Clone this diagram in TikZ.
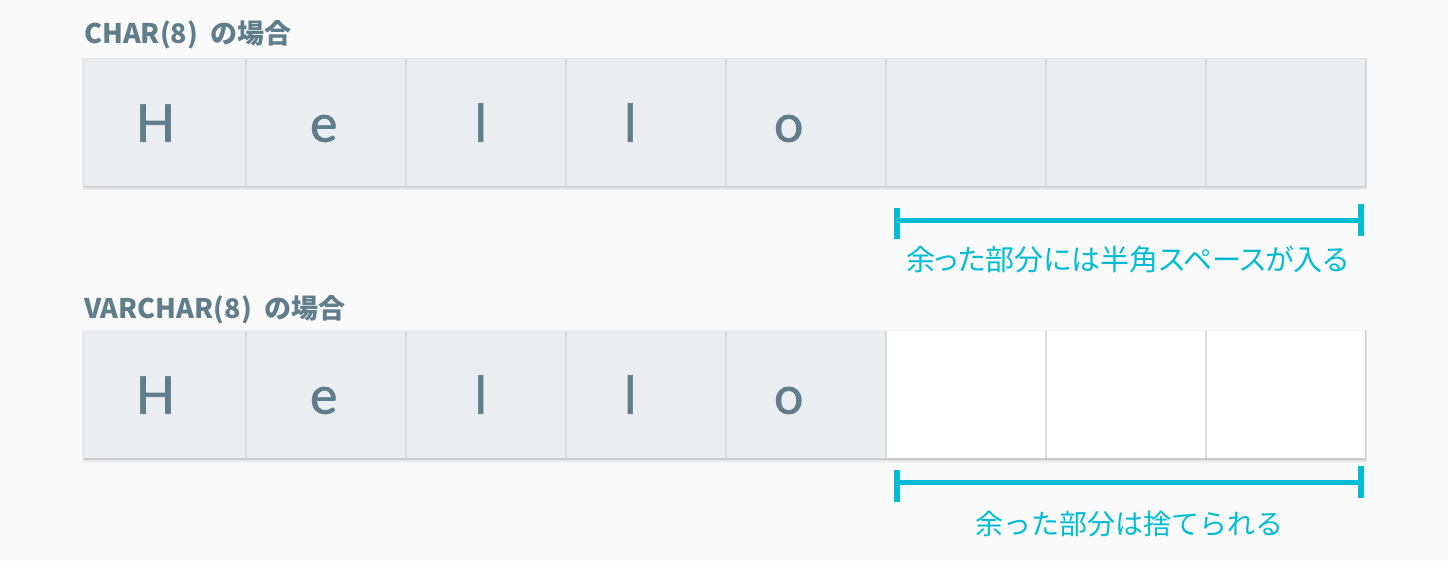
\documentclass[tikz,border=0pt]{standalone}
\usepackage{fontspec}
\setmainfont{Lato}
\newfontfamily\letterfont[FakeBold=1.2]{Lato}
\newfontfamily\cjk{Noto Sans CJK JP}
\newfontfamily\cjkp[RawFeature=+palt]{Noto Sans CJK JP}
\definecolor{bg}{HTML}{FAFAFA}
\definecolor{txt}{HTML}{607D8B}
\definecolor{cellg}{HTML}{EBEEF1}
\definecolor{sepc}{HTML}{D5DBDF}
\definecolor{cyanb}{HTML}{00BCD4}
\tikzset{
  cellbox/.style={inner sep=0pt, outer sep=0pt, minimum height=127pt},
  letter/.style={text=txt, font=\letterfont\fontsize{52}{60}\selectfont, anchor=base, inner sep=0pt},
  titletext/.style={text=txt, font=\cjk\bfseries\fontsize{27}{32}\selectfont, anchor=base west, inner sep=0pt},
  labeltext/.style={text=cyanb, font=\fontsize{29}{34}\selectfont, anchor=base, inner sep=0pt},
  sepline/.style={draw=sepc, line width=2pt},
  bracket/.style={draw=cyanb, line width=5pt},
  tick/.style={draw=cyanb, line width=6pt},
}
\begin{document}
\begin{tikzpicture}[x=1pt,y=-1pt]
\fill[bg] (0,0) rectangle (1448,561);
\useasboundingbox (0,0) rectangle (1448,561);
% shadows
\foreach \yt/\yb in {59/186, 331/458}{
  \fill[black, opacity=0.04] (82,\yt-1) rectangle (1367,\yb+4.5);
  \fill[black, opacity=0.06] (82.5,\yt-0.5) rectangle (1366.5,\yb+3);
  \fill[black, opacity=0.09] (83.5,\yt) rectangle (1365.5,\yb+1.5);
}
% row 1 cells
\foreach \i/\l/\r in {1/84/246,2/246/406,3/406/566,4/566/726,5/726/886,6/886/1046,7/1046/1206,8/1206/1365}{
  \pgfmathsetmacro\w{\r-\l}
  \pgfmathsetmacro\c{(\r+\l)/2}
  \node[cellbox, fill=cellg, minimum width=\w pt] (a\i) at (\c,122.5) {};
}
% row 2 cells
\foreach \i/\l/\r/\f in {1/84/246/cellg,2/246/406/cellg,3/406/566/cellg,4/566/726/cellg,5/726/886/cellg,6/886/1046/white,7/1046/1206/white,8/1206/1365/white}{
  \pgfmathsetmacro\w{\r-\l}
  \pgfmathsetmacro\c{(\r+\l)/2}
  \node[cellbox, fill=\f, minimum width=\w pt] (b\i) at (\c,394.5) {};
}
\foreach \i in {1,...,7}{
  \draw[sepline] (a\i.north east) -- (a\i.south east);
  \draw[sepline] (b\i.north east) -- (b\i.south east);
}
% letters
\foreach \r/\yb in {a/141.7, b/413.7}{
  \node[letter] (\r H) at (155.5,\yb) {H};
  \node[letter] (\r e) at (323.7,\yb) {e};
  \node[letter] (\r l) at (480.7,\yb) {l};
  \node[letter] (\r ll) at (630.3,\yb) {l};
  \node[letter] (\r o) at (788.7,\yb) {o};
}
% titles
\node[titletext] (t1) at (84,43.3) {CHAR(8)\ \ の場合};
\node[titletext] (t2) at (84,318.3) {VARCHAR(8)\ \ の場合};
% brackets
\coordinate (l1) at (897,220.7);
\coordinate (r1) at (1360.5,220.7);
\coordinate (l1t) at (897,208);
\coordinate (l1b) at (897,239.5);
\coordinate (r1t) at (1360.5,204);
\coordinate (r1b) at (1360.5,235.7);
\draw[bracket] (l1) -- (r1);
\draw[tick] (l1t) -- (l1b);
\draw[tick] (r1t) -- (r1b);
\coordinate (l2) at (897,482.5);
\coordinate (r2) at (1360.5,482.5);
\coordinate (l2t) at (897,470);
\coordinate (l2b) at (897,501.7);
\coordinate (r2t) at (1360.5,466);
\coordinate (r2b) at (1360.5,497.7);
\draw[bracket] (l2) -- (r2);
\draw[tick] (l2t) -- (l2b);
\draw[tick] (r2t) -- (r2b);
% labels
\node[labeltext, font=\cjkp\fontsize{29}{34}\selectfont] (lab1) at (1127.5,271) {余った部分には半角スペースが入る};
\node[labeltext, font=\cjk\fontsize{28}{33}\selectfont] (lab2) at (1129,534) {余った部分は捨てられる};
\end{tikzpicture}
\end{document}
